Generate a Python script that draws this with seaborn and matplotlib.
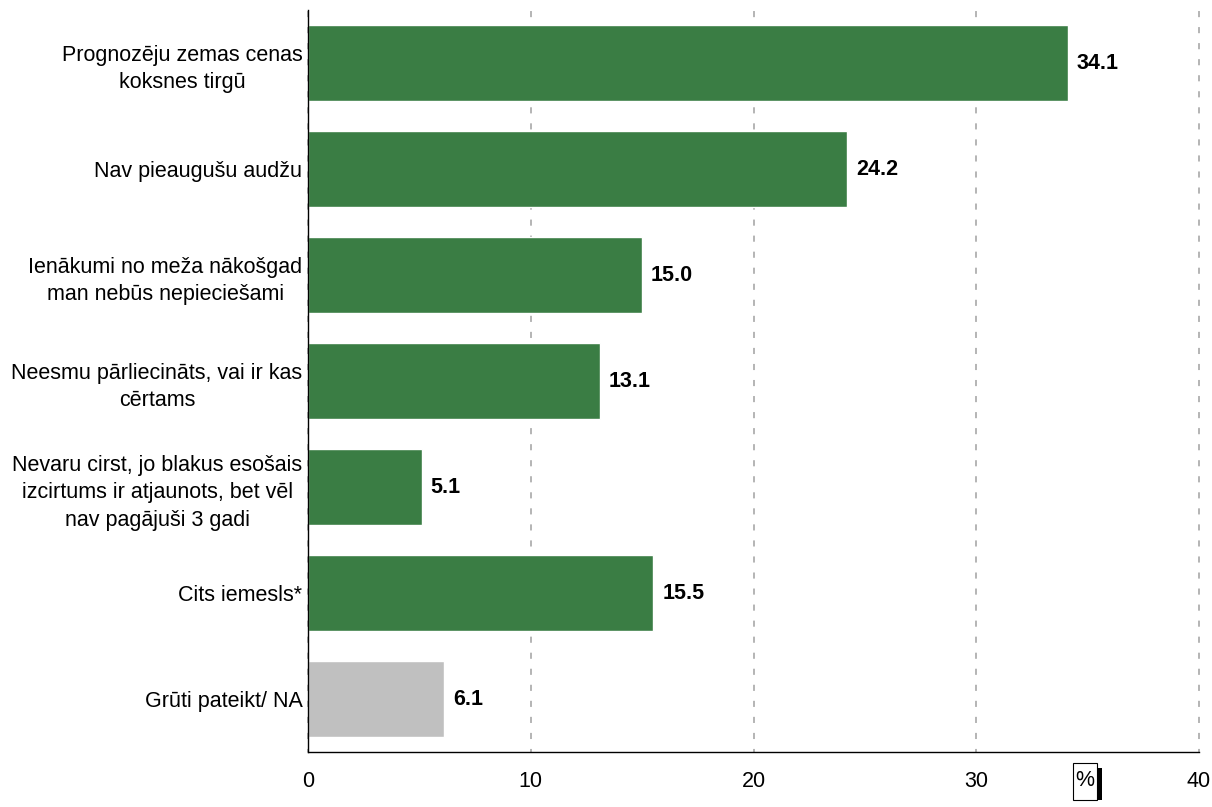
import matplotlib
matplotlib.use("Agg")
import matplotlib.pyplot as plt
from matplotlib.patches import Rectangle
import seaborn as sns
import pandas as pd

categories = [
    "Prognozēju zemas cenas\nkoksnes tirgū",
    "Nav pieaugušu audžu",
    "Ienākumi no meža nākošgad\nman nebūs nepieciešami",
    "Neesmu pārliecināts, vai ir kas\ncērtams",
    "Nevaru cirst, jo blakus esošais\nizcirtums ir atjaunots, bet vēl\nnav pagājuši 3 gadi",
    "Cits iemesls*",
    "Grūti pateikt/ NA",
]
values = [34.1, 24.2, 15.0, 13.1, 5.1, 15.5, 6.1]
colors = ["#3a7d44"] * 6 + ["#c0c0c0"]

sns.set_style("white")
plt.rcParams["font.family"] = ["Liberation Sans", "DejaVu Sans"]
plt.rcParams["text.color"] = "black"

df = pd.DataFrame({"cat": categories, "val": values})

W, H = 1212, 807
fig = plt.figure(figsize=(W / 100, H / 100), dpi=100)
ax = fig.add_axes([308 / W, 1 - 752 / H, (1199 - 308) / W, (752 - 10) / H])

sns.barplot(data=df, x="val", y="cat", hue="cat", palette=colors, legend=False,
            width=0.72, ax=ax, saturation=1)

for i, v in enumerate(values):
    ax.text(v + 0.4, i, f"{v:.1f}", va="center", ha="left",
            fontsize=15.5, fontweight="bold", color="black")

ax.set_xlim(0, 40)
ax.set_ylim(6.5, -0.5)
ax.set_xticks([0, 10, 20, 30, 40])
ax.set_xlabel("")
ax.set_ylabel("")
ax.xaxis.grid(True, linestyle=(2, (4, 6.5)), color="#a0a0a0", linewidth=1.1)
for gl in ax.get_xgridlines():
    gl.set_clip_on(False)
ax.set_axisbelow(True)
for s in ["top", "right"]:
    ax.spines[s].set_visible(False)
for s in ["left", "bottom"]:
    ax.spines[s].set_color("black")
    ax.spines[s].set_linewidth(1)
ax.tick_params(axis="x", direction="out", length=5, width=1, colors="black",
               labelsize=15.5, pad=9)
ax.tick_params(axis="y", length=0, labelsize=15.5, pad=4, labelcolor="black")
for lab in ax.get_yticklabels():
    lab.set_multialignment("center")
    lab.set_linespacing(1.4)

# "%" box with shadow
fig.add_artist(Rectangle((1078 / W, 1 - 800 / H), 24 / W, 32 / H,
                         transform=fig.transFigure, fc="black", ec="none"))
fig.add_artist(Rectangle((1073 / W, 1 - 800 / H), 24 / W, 37 / H,
                         transform=fig.transFigure, fc="white", ec="black", lw=0.8))
fig.text(1085 / W, 1 - 781 / H, "%", ha="center", va="center", fontsize=15.5)

fig.savefig("out.png", dpi=100)
